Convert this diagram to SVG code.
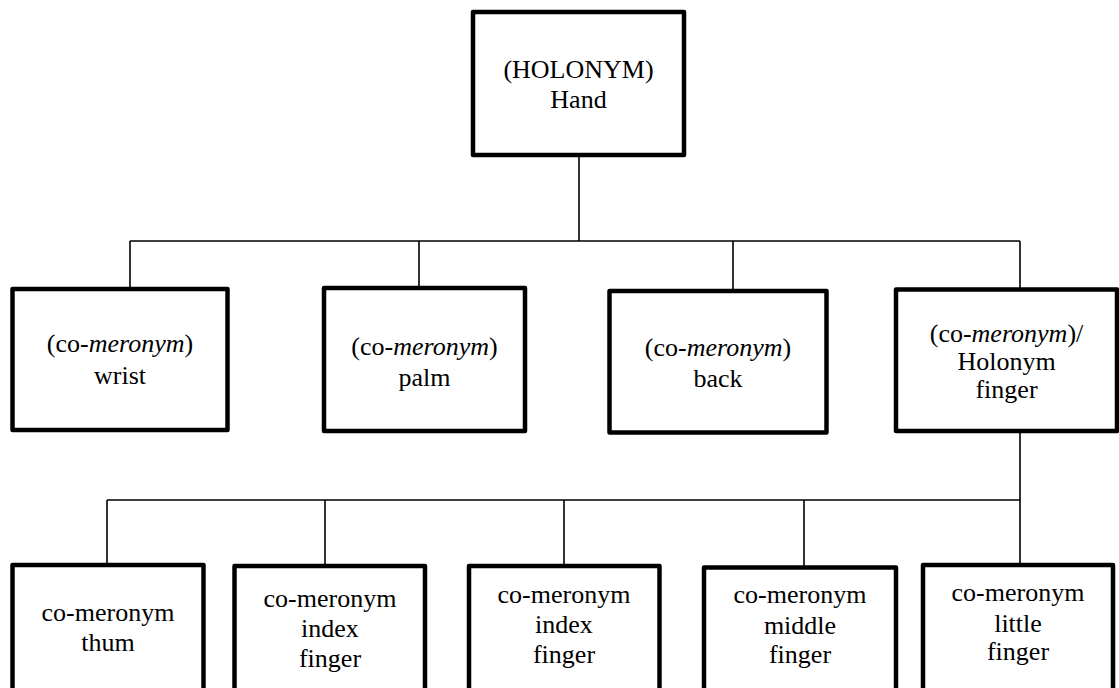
<svg xmlns="http://www.w3.org/2000/svg" width="1119" height="688" viewBox="0 0 1119 688">
<style>
.box{fill:#fff;stroke:#000;stroke-width:4.5;stroke-linejoin:round}
.ln{stroke:#000;stroke-width:1.6;fill:none}
.t{font-family:'Liberation Serif','Times New Roman',Tinos,serif;font-size:26px;fill:#000;text-anchor:middle}
.i{font-style:italic}
</style>
<rect width="1119" height="688" fill="#fff"/>
<g id="connectors">
<path class="ln" d="M579 155V241M130 241H1020M130 241V289M419 241V288M733 241V291M1020 241V289.5"/>
<path class="ln" d="M1020 431V500M107 500H1020M107 500V565M325 500V566M564 500V566M804 500V567.5M1020 500V565"/>
</g>
<g font-family="Liberation Serif, serif" font-size="26" text-anchor="middle">
<g id="hand">
<rect class="box" x="473" y="12" width="211" height="143"/>
<text class="t" x="578.5" y="78">(HOLONYM)</text>
<text class="t" x="578.5" y="108">Hand</text>
</g>
<g id="wrist">
<rect class="box" x="12.5" y="289" width="215" height="141"/>
<text class="t" x="120" y="352">(co-<tspan class="i">meronym</tspan>)</text>
<text class="t" x="120" y="384">wrist</text>
</g>
<g id="palm">
<rect class="box" x="324" y="288" width="201" height="143"/>
<text class="t" x="424.5" y="355">(co-<tspan class="i">meronym</tspan>)</text>
<text class="t" x="424.5" y="386">palm</text>
</g>
<g id="back">
<rect class="box" x="609.5" y="291" width="217" height="141.5"/>
<text class="t" x="718" y="356">(co-<tspan class="i">meronym</tspan>)</text>
<text class="t" x="718" y="387">back</text>
</g>
<g id="finger">
<rect class="box" x="896" y="289.5" width="221" height="141.5"/>
<text class="t" x="1006.5" y="342">(co-<tspan class="i">meronym</tspan>)/</text>
<text class="t" x="1006.5" y="370">Holonym</text>
<text class="t" x="1006.5" y="398">finger</text>
</g>
<g id="thum">
<rect class="box" x="12.5" y="565" width="191" height="140"/>
<text class="t" x="108" y="621">co-meronym</text>
<text class="t" x="108" y="651">thum</text>
</g>
<g id="index1">
<rect class="box" x="234.5" y="566" width="190.5" height="140"/>
<text class="t" x="330" y="607">co-meronym</text>
<text class="t" x="330" y="637">index</text>
<text class="t" x="330" y="667">finger</text>
</g>
<g id="index2">
<rect class="box" x="469" y="566" width="190.5" height="140"/>
<text class="t" x="564" y="603">co-meronym</text>
<text class="t" x="564" y="633">index</text>
<text class="t" x="564" y="663">finger</text>
</g>
<g id="middle">
<rect class="box" x="704" y="567.5" width="192" height="140"/>
<text class="t" x="800" y="603">co-meronym</text>
<text class="t" x="800" y="634">middle</text>
<text class="t" x="800" y="663">finger</text>
</g>
<g id="little">
<rect class="box" x="923" y="565" width="190" height="140"/>
<text class="t" x="1018" y="601">co-meronym</text>
<text class="t" x="1018" y="632">little</text>
<text class="t" x="1018" y="660">finger</text>
</g>
</g>
</svg>
